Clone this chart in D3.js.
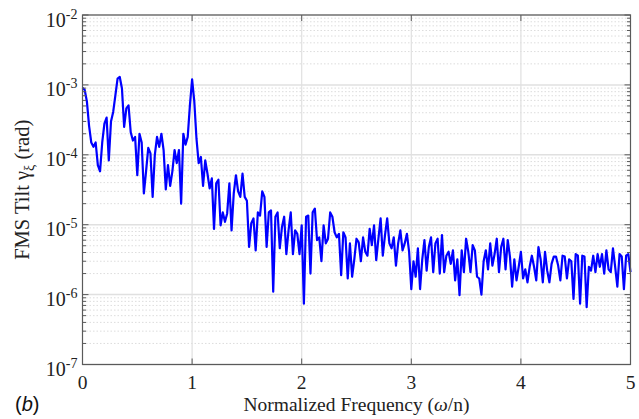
<!DOCTYPE html>
<html>
<head>
<meta charset="utf-8">
<script src="https://cdn.jsdelivr.net/npm/d3@7"></script>
<style>
  body { margin: 0; background: #fff; }
  svg { display: block; }
</style>
</head>
<body>
<svg id="chart" width="639" height="419"></svg>
<script>
// sampled every 0.02 of normalized frequency, from 0 to 5
const freqStep = 0.02
const tiltRad = [
  // 0 - 0.80
  9.1e-4, 8.5e-4, 5.8e-4, 2.6e-4, 1.5e-4, 1.3e-4, 1.5e-4, 7.1e-5, 5.8e-5, 1.5e-4,
  2.8e-4, 3.4e-4, 8.3e-5, 3.0e-4, 4.1e-4, 7.1e-4, 1.23e-3, 1.3e-3, 8.9e-4, 2.5e-4,
  4.6e-4, 5.1e-4, 2.1e-4, 1.6e-4, 1.8e-4, 5.1e-5, 2.0e-4, 1.5e-4, 2.8e-5, 5.8e-5,
  1.26e-4, 1.05e-4, 2.5e-5, 1.0e-4, 1.8e-4, 1.3e-4, 2.0e-4, 1.17e-4, 3.2e-5, 7.1e-5,
  3.6e-5,
  // 0.82 - 1.64
  5.8e-5, 1.17e-4, 7.6e-5, 1.17e-4, 2.0e-5, 2.0e-4, 1.4e-4, 1.8e-4, 5.1e-4, 1.2e-3,
  5.8e-4, 1.7e-4, 7.6e-5, 9.3e-5, 3.6e-5, 8.3e-5, 5.4e-5, 3.3e-5, 4.6e-5, 8.7e-6,
  3.9e-5, 4.4e-5, 9.8e-6, 1.5e-5, 1.1e-5, 1.45e-5, 3.9e-5, 8.3e-6, 2.8e-5, 5.1e-5,
  3.0e-5, 2.5e-5, 5.4e-5, 2.5e-5, 2.2e-5, 4.8e-6, 1.05e-5, 1.23e-5, 4.3e-6, 1.5e-5,
  1.35e-5, 3.0e-5,
  // 1.66 - 2.48
  2.5e-5, 4.8e-6, 1.5e-5, 1.6e-5, 1.1e-6, 1.3e-5, 1.5e-5, 4.6e-6, 9.3e-6, 1.3e-5,
  3.8e-6, 8.3e-6, 1.5e-5, 3.8e-6, 8.3e-6, 7.4e-6, 3.8e-6, 9.8e-6, 7.4e-7, 1.3e-5,
  1.35e-5, 2.0e-6, 1.5e-5, 1.7e-5, 6.0e-6, 6.6e-6, 3.0e-6, 9.8e-6, 5.4e-6, 6.3e-6,
  1.5e-5, 1.3e-5, 7.8e-6, 6.6e-6, 7.4e-6, 1.9e-6, 7.8e-6, 6.6e-6, 1.7e-6, 5.4e-6,
  1.8e-6, 3.2e-6,
  // 2.50 - 3.32
  6.3e-6, 5.6e-6, 3.0e-6, 6.6e-6, 4.1e-6, 3.6e-6, 8.7e-6, 5.1e-6, 9.8e-6, 3.1e-6,
  6.3e-6, 1.23e-5, 3.6e-6, 7.1e-6, 1.23e-5, 5.4e-6, 4.6e-6, 6.6e-6, 2.6e-6, 5.4e-6,
  8.3e-6, 4.3e-6, 5.4e-6, 7.4e-6, 4.1e-6, 1.2e-6, 3.0e-6, 1.8e-6, 4.6e-6, 1.2e-6,
  3.2e-6, 6.0e-6, 2.2e-6, 4.8e-6, 6.6e-6, 2.1e-6, 5.4e-6, 6.3e-6, 2.0e-6, 7.1e-6,
  2.1e-6, 3.6e-6,
  // 3.34 - 4.16
  4.1e-6, 2.75e-6, 4.3e-6, 1.6e-6, 3.2e-6, 9.8e-7, 4.3e-6, 2.1e-6, 6.3e-6, 4.1e-6,
  2.1e-6, 5.1e-6, 4.3e-6, 1.8e-6, 1.7e-6, 1.0e-6, 3.0e-6, 4.3e-6, 2.3e-6, 5.4e-6,
  2.6e-6, 3.8e-6, 6.3e-6, 2.1e-6, 4.8e-6, 6.3e-6, 2.3e-6, 6.0e-6, 3.5e-6, 1.3e-6,
  3.2e-6, 1.6e-6, 2.5e-6, 4.1e-6, 1.7e-6, 2.3e-6, 1.5e-6, 2.5e-6, 3.6e-6, 2.5e-6,
  1.6e-6, 4.8e-6,
  // 4.18 - 5.00
  3.2e-6, 1.5e-6, 4.1e-6, 2.2e-6, 1.5e-6, 2.75e-6, 3.5e-6, 3.5e-6, 2.6e-6, 1.6e-6,
  3.6e-6, 3.5e-6, 1.7e-6, 3.2e-6, 3.0e-6, 8.7e-7, 3.8e-6, 3.6e-6, 7.4e-7, 3.6e-6,
  3.5e-6, 6.6e-7, 2.5e-6, 2.2e-6, 3.6e-6, 2.1e-6, 3.8e-6, 2.5e-6, 3.8e-6, 2.0e-6,
  4.3e-6, 2.3e-6, 2.1e-6, 4.6e-6, 2.5e-6, 1.3e-6, 3.8e-6, 3.5e-6, 1.2e-6, 3.6e-6,
  3.8e-6, 2.1e-6
]

const xTicks = [0, 1, 2, 3, 4, 5]
const yDecades = [-7, -6, -5, -4, -3, -2]
const xLabel = 'Normalized Frequency ('
const yLabel = 'FMS Tilt '
const panelTag = 'b'

const svg = d3.select('#chart')
const plotL = 82.5, plotR = 630.5, plotT = 15, plotB = 364.5

const x = d3.scaleLinear().domain([0, 5]).range([plotL, plotR])
const y = d3.scaleLog().domain([1e-7, 1e-2]).range([plotB, plotT])

const points = tiltRad.map((v, i) => ({ f: i * freqStep, v }))

// minor values 2..9 for each decade
const minorVals = []
yDecades.slice(0, -1).forEach(e => {
  for (let k = 2; k <= 9; k++) minorVals.push(k * Math.pow(10, e))
})

const grid = svg.append('g').attr('class', 'grid')

grid.selectAll('.minor')
  .data(minorVals)
  .join('line')
  .attr('class', 'minor')
  .attr('x1', plotL).attr('x2', plotR)
  .attr('y1', d => y(d)).attr('y2', d => y(d))
  .attr('stroke', '#d4d4d4')
  .attr('stroke-width', 0.8)
  .attr('stroke-dasharray', '1.5,2')

grid.selectAll('.major')
  .data(yDecades.map(e => Math.pow(10, e)))
  .join('line')
  .attr('class', 'major')
  .attr('x1', plotL).attr('x2', plotR)
  .attr('y1', d => y(d)).attr('y2', d => y(d))
  .attr('stroke', '#e0e0e0')
  .attr('stroke-width', 1.5)

grid.selectAll('.vgrid')
  .data(xTicks.slice(1, -1))
  .join('line')
  .attr('class', 'vgrid')
  .attr('x1', d => x(d)).attr('x2', d => x(d))
  .attr('y1', plotT).attr('y2', plotB)
  .attr('stroke', '#e0e0e0')
  .attr('stroke-width', 1.2)

// data line
const line = d3.line()
  .x(d => x(d.f))
  .y(d => y(d.v))

svg.append('path')
  .datum(points)
  .attr('d', line)
  .attr('fill', 'none')
  .attr('stroke', '#0000ff')
  .attr('stroke-width', 2.2)
  .attr('stroke-linejoin', 'round')

// box + inward ticks on all four sides
const axisColor = '#5a5a5a'
const frame = svg.append('g')

frame.append('rect')
  .attr('x', plotL).attr('y', plotT)
  .attr('width', plotR - plotL).attr('height', plotB - plotT)
  .attr('fill', 'none')
  .attr('stroke', axisColor)
  .attr('stroke-width', 1.2)

xTicks.forEach(t => {
  frame.append('line')
    .attr('x1', x(t)).attr('x2', x(t))
    .attr('y1', plotB).attr('y2', plotB - 6)
    .attr('stroke', axisColor)
  frame.append('line')
    .attr('x1', x(t)).attr('x2', x(t))
    .attr('y1', plotT).attr('y2', plotT + 6)
    .attr('stroke', axisColor)
})

yDecades.forEach(e => {
  const yy = y(Math.pow(10, e))
  frame.append('line')
    .attr('x1', plotL).attr('x2', plotL + 6)
    .attr('y1', yy).attr('y2', yy)
    .attr('stroke', axisColor)
  frame.append('line')
    .attr('x1', plotR).attr('x2', plotR - 6)
    .attr('y1', yy).attr('y2', yy)
    .attr('stroke', axisColor)
})

minorVals.forEach(v => {
  const yy = y(v)
  frame.append('line')
    .attr('x1', plotL).attr('x2', plotL + 3.5)
    .attr('y1', yy).attr('y2', yy)
    .attr('stroke', axisColor)
  frame.append('line')
    .attr('x1', plotR).attr('x2', plotR - 3.5)
    .attr('y1', yy).attr('y2', yy)
    .attr('stroke', axisColor)
})

// tick labels
const serif = "'Liberation Serif', 'Times New Roman', serif"

svg.append('g')
  .selectAll('text')
  .data(xTicks)
  .join('text')
  .attr('x', d => x(d))
  .attr('y', plotB + 24)
  .attr('text-anchor', 'middle')
  .attr('font-family', serif)
  .attr('font-size', 19.5)
  .attr('fill', '#222')
  .text(d => d)

const yl = svg.append('g')
  .selectAll('text')
  .data(yDecades)
  .join('text')
  .attr('x', plotL - 5)
  .attr('y', d => y(Math.pow(10, d)) + 11.5)
  .attr('text-anchor', 'end')
  .attr('font-family', serif)
  .attr('fill', '#222')

yl.append('tspan').attr('font-size', 20).text('10')
yl.append('tspan').attr('font-size', 14).attr('dy', -8).text(d => '-' + Math.abs(d))

// axis titles
const xt = svg.append('text')
  .attr('x', (plotL + plotR) / 2)
  .attr('y', 411)
  .attr('text-anchor', 'middle')
  .attr('font-family', serif)
  .attr('font-size', 19.5)
  .attr('fill', '#222')
xt.append('tspan').text(xLabel)
xt.append('tspan').attr('font-style', 'italic').text('ω')
xt.append('tspan').text('/n)')

const yt = svg.append('text')
  .attr('transform', `translate(29,${(plotT + plotB) / 2}) rotate(-90)`)
  .attr('text-anchor', 'middle')
  .attr('font-family', serif)
  .attr('font-size', 20.5)
  .attr('fill', '#222')
yt.append('tspan').text(yLabel)
yt.append('tspan').text('γ')
yt.append('tspan').attr('font-size', 14).attr('dy', 5).text('ξ')
yt.append('tspan').attr('dy', -5).text(' (rad)')

// panel tag
const tag = svg.append('text')
  .attr('x', 15)
  .attr('y', 411)
  .attr('font-family', "'Liberation Sans', Arial, sans-serif")
  .attr('font-size', 20)
  .attr('fill', '#111')
tag.append('tspan').text('(')
tag.append('tspan').attr('font-style', 'italic').text(panelTag)
tag.append('tspan').text(')')
</script>
</body>
</html>
